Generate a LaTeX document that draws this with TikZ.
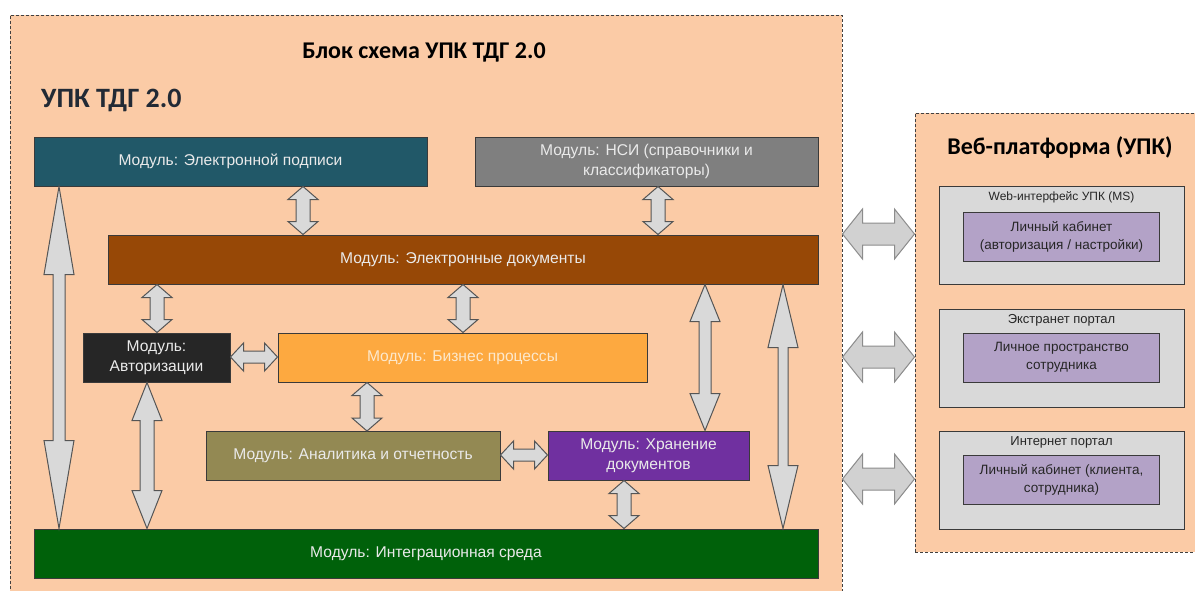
\documentclass[tikz,border=0pt]{standalone}
\usepackage{fontspec}
\setmainfont{Liberation Sans}
\newfontfamily\hdfont{Carlito}
\usetikzlibrary{calc,positioning}

\definecolor{peach}{HTML}{FBCBA6}
\definecolor{dashc}{HTML}{404040}
\definecolor{lineC}{HTML}{3A3A3A}
\definecolor{lightT}{HTML}{EAEAEA}
\definecolor{darkT}{HTML}{262626}
\definecolor{cSign}{HTML}{215868}
\definecolor{cNsi}{HTML}{7F7F7F}
\definecolor{cDocs}{HTML}{974806}
\definecolor{cAuth}{HTML}{262626}
\definecolor{cBpm}{HTML}{FDA940}
\definecolor{cBpmT}{HTML}{FCE8CC}
\definecolor{cAnl}{HTML}{938953}
\definecolor{cStore}{HTML}{7030A0}
\definecolor{cInteg}{HTML}{00610A}
\definecolor{cPan}{HTML}{D9D9D9}
\definecolor{cCab}{HTML}{B3A2C7}
\definecolor{arrF}{HTML}{D9D9D9}
\definecolor{arrL}{HTML}{555555}
\definecolor{upkT}{HTML}{222A35}

\newcommand{\vdbl}[7][]{%
	\coordinate (t) at (#2,0 |- #3.south);
	\coordinate (b) at (#2,0 |- #4.north);
	\draw[blk,#1] (t) -- ++(#6,#5) -- ++({#7-#6},0) -- ($(b)+(#7,-#5)$) -- ++({#6-#7},0) -- (b)
		-- ++(-#6,-#5) -- ++({#6-#7},0) -- ($(t)+(-#7,#5)$) -- ++({#7-#6},0) -- cycle;}
\newcommand{\hdbl}[7][]{%
	\coordinate (l) at (#3.east |- 0,#2);
	\coordinate (r) at (#4.west |- 0,#2);
	\draw[blk,#1] (l) -- ++(#5,-#6) -- ++(0,{#6-#7}) -- ($(r)+(-#5,-#7)$) -- ++(0,{#7-#6}) -- (r)
		-- ++(-#5,#6) -- ++(0,{#7-#6}) -- ($(l)+(#5,#7)$) -- ++(0,{#6-#7}) -- cycle;}

\begin{document}
\begin{tikzpicture}[
	x=1pt, y=-1pt,
	minimum height=49pt,
	text centered,
	font=\fontsize{15.6}{19.5}\selectfont,
	cont/.style={
		rectangle,
		draw=dashc, line width=1pt,
		dash pattern=on 3pt off 2pt,
		fill=peach
	},
	mod/.style={
		rectangle,
		draw=lineC, line width=1pt,
		align=center, inner sep=0pt,
		text=lightT
	},
	pan/.style={
		rectangle,
		draw=lineC, line width=1pt,
		fill=cPan,
		minimum width=245pt, minimum height=98pt
	},
	cab/.style={
		rectangle,
		draw=lineC, line width=1pt,
		fill=cCab, text=darkT,
		minimum width=196pt, align=center,
		font=\fontsize{13.5}{18}\selectfont
	},
	plbl/.style={
		text=darkT, inner sep=0pt, minimum height=0pt,
		font=\fontsize{13}{15}\selectfont
	},
	ttl/.style={
		inner sep=0pt, minimum height=0pt,
		font=\hdfont\bfseries\fontsize{24}{28}\selectfont
	},
	blk/.style={
		fill=arrF, draw=arrL, line width=1pt
	},
	outer/.style={
		draw=black!45, fill=black!18
	}
	]

	\useasboundingbox (0,0) rectangle (1195,590);
	\clip (0,0) rectangle (1195,590);

	\node [cont, minimum width=832pt, minimum height=595pt] (Upk) at (426,312.5) {};
	\node [cont, minimum width=295pt, minimum height=439pt] (Web) at (1062.5,332.5) {};

	\node [ttl] (TBlock) at (424,52) {Блок схема УПК ТДГ 2.0};
	\node [ttl, font=\hdfont\bfseries\fontsize{28}{32}\selectfont, text=upkT, anchor=west] (TUpk) at (41,100) {УПК ТДГ 2.0};
	\node [ttl] (TWeb) at (1060,148) {Веб-платформа (УПК)};

	\node [mod, fill=cSign, minimum width=393pt] (Sign) at (230.5,161.5) {Модуль: Электронной подписи};
	\node [mod, fill=cNsi, minimum width=343pt] (Nsi) at (646.5,161.5) {Модуль: НСИ (справочники и\\классификаторы)};
	\node [mod, fill=cDocs, minimum width=710pt] (Docs) at (463,259.5) {Модуль: Электронные документы};
	\node [mod, fill=cAuth, text=white!92!black, minimum width=147pt] (Auth) at (156.5,357.5) {Модуль:\\Авторизации};
	\node [mod, fill=cBpm, text=cBpmT, minimum width=369pt] (Bpm) at (462.5,357.5) {Модуль: Бизнес процессы};
	\node [mod, fill=cAnl, minimum width=294pt] (Anl) at (353,456) {Модуль: Аналитика и отчетность};
	\node [mod, fill=cStore, minimum width=201pt] (Store) at (648.5,455.5) {Модуль: Хранение\\документов};
	\node [mod, fill=cInteg, minimum width=784pt] (Integ) at (426,553.5) {Модуль: Интеграционная среда};

	\node [pan] (PWeb) at (1061.5,235) {};
	\node [pan] (PExt) at (1061.5,358) {};
	\node [pan] (PInt) at (1061.5,480) {};
	\node [plbl, font=\fontsize{12}{14}\selectfont, below=6pt of PWeb.north] (LWeb) {Web-интерфейс УПК (MS)};
	\node [plbl, below=6pt of PExt.north] (LExt) {Экстранет портал};
	\node [plbl, below=6pt of PInt.north] (LInt) {Интернет портал};
	\node [cab, below=26pt of PWeb.north] (CWeb) {Личный кабинет\\(авторизация / настройки)};
	\node [cab, below=24pt of PExt.north] (CExt) {Личное пространство\\сотрудника};
	\node [cab, below=24pt of PInt.north] (CInt) {Личный кабинет (клиента,\\сотрудника)};

	\vdbl{303}{Sign}{Docs}{13}{15}{7}
	\vdbl{658}{Nsi}{Docs}{13}{15}{7}
	\vdbl{59}{Sign}{Integ}{88}{15}{6}
	\vdbl{157}{Docs}{Auth}{13}{15}{7}
	\vdbl{463}{Docs}{Bpm}{13}{15}{7}
	\vdbl{147}{Auth}{Integ}{38}{15}{7}
	\vdbl{367}{Bpm}{Anl}{13}{15}{7}
	\vdbl{624}{Store}{Integ}{13}{15}{7}
	\vdbl{705}{Docs}{Store}{37}{15}{6}
	\vdbl{783}{Docs}{Integ}{63}{15}{5}
	\hdbl{357}{Auth}{Bpm}{13}{14}{6}
	\hdbl{455}{Anl}{Store}{13}{14}{6}
	\hdbl[outer]{234}{Upk}{Web}{20}{25}{11}
	\hdbl[outer]{357}{Upk}{Web}{20}{25}{11}
	\hdbl[outer]{479}{Upk}{Web}{20}{25}{11}

\end{tikzpicture}
\end{document}
